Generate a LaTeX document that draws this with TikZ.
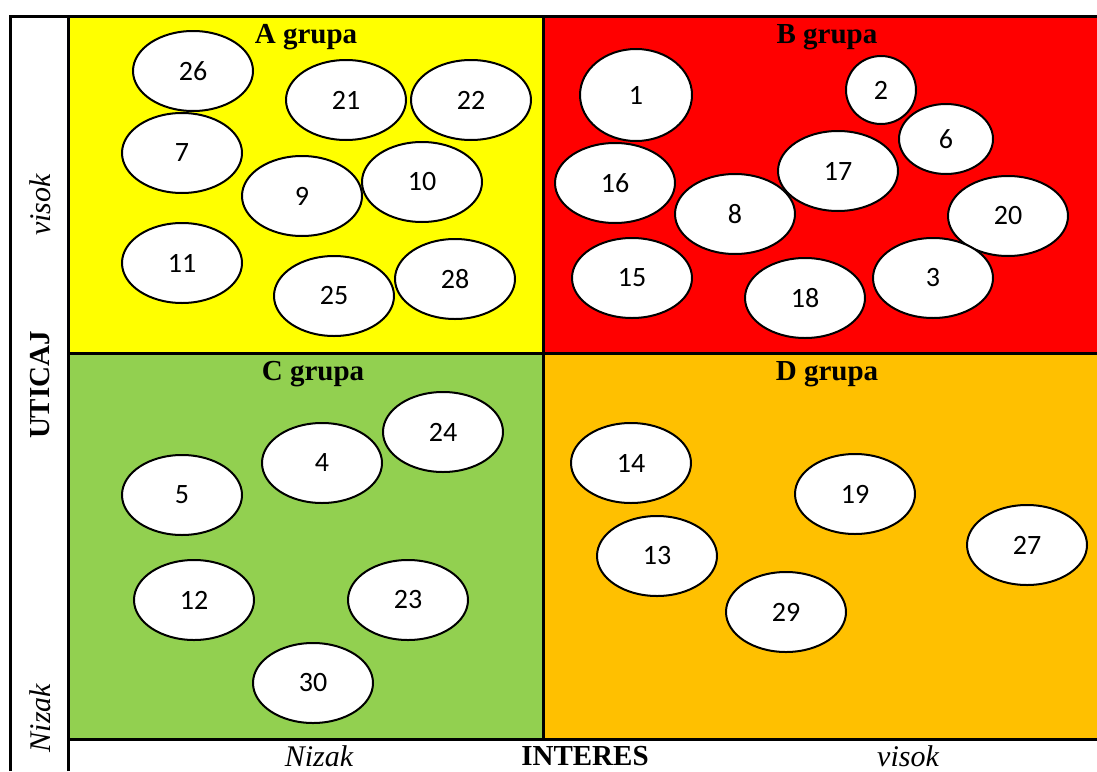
\documentclass[tikz,border=0pt]{standalone}
\usepackage{fontspec}
\setmainfont{Liberation Serif}
\newfontfamily\numfont{Carlito}
\usetikzlibrary{shapes, positioning}
\definecolor{grupayellow}{HTML}{FFFF00}
\definecolor{grupared}{HTML}{FF0000}
\definecolor{grupagreen}{HTML}{92D050}
\definecolor{grupaorange}{HTML}{FFC000}
\tikzset{
  stake/.style={ellipse, draw=black, fill=white, line width=1pt, inner sep=0pt, minimum width=60pt, minimum height=40pt, font=\fontsize{14}{16}\selectfont\numfont},
  grouptitle/.style={font=\fontsize{14.5}{17}\selectfont\bfseries},
  axislabel/.style={font=\fontsize{15}{17}\selectfont\itshape}
}

\begin{document}
\begin{tikzpicture}[x=0.5pt, y=-0.5pt]
          \useasboundingbox (0,0) rectangle (1097,771);
          % Kvadranti
          \fill[grupayellow] (68,16) rectangle (543,353);
          \fill[grupared] (543,16) rectangle (1097,353);
          \fill[grupagreen] (68,353) rectangle (543,739);
          \fill[grupaorange] (543,353) rectangle (1097,739);
          % Okvir
          \draw[line width=1.5pt] (10,771) -- (10,16) -- (1097,16);
          \draw[line width=1.5pt] (68,771) -- (68,16);
          \draw[line width=1.5pt] (68,739) -- (1097,739);
          \draw[line width=1.5pt] (543,16) -- (543,739);
          \draw[line width=1.5pt] (68,353) -- (1097,353);
          % Naslovi grupa
          \node[grouptitle] (ta) at (306,37) {A grupa};
          \node[grouptitle] (tb) at (827,37) {B grupa};
          \node[grouptitle] (tc) at (313,374) {C grupa};
          \node[grouptitle] (td) at (827,374) {D grupa};
          % A grupa
          \node[stake] (s26) at (193,71) {26};
          \node[stake] (s21) at (346,100) {21};
          \node[stake] (s22) at (471,100) {22};
          \node[stake] (s7) at (182,153) {7};
          \node[stake] (s9) at (302,196) {9};
          \node[stake] (s10) at (422,182) {10};
          \node[stake] (s11) at (182,263) {11};
          \node[stake] (s25) at (334,296) {25};
          \node[stake] (s28) at (455,279) {28};
          % B grupa
          \node[stake, minimum width=56pt, minimum height=46pt] (s1) at (636,95) {1};
          \node[stake, minimum width=35pt, minimum height=34pt] (s2) at (881,90) {2};
          \node[stake, minimum width=47pt, minimum height=35pt] (s6) at (946,139) {6};
          \node[stake] (s16) at (615,183) {16};
          \node[stake] (s17) at (838,171) {17};
          \node[stake] (s8) at (735,214) {8};
          \node[stake] (s20) at (1008,216) {20};
          \node[stake] (s15) at (632,278) {15};
          \node[stake] (s18) at (805,298) {18};
          \node[stake] (s3) at (933,278) {3};
          % C grupa
          \node[stake] (s4) at (322,463) {4};
          \node[stake] (s24) at (443,432) {24};
          \node[stake] (s5) at (182,495) {5};
          \node[stake] (s12) at (194,600) {12};
          \node[stake] (s23) at (408,600) {23};
          \node[stake] (s30) at (313,683) {30};
          % D grupa
          \node[stake] (s14) at (631,463) {14};
          \node[stake] (s19) at (855,494) {19};
          \node[stake] (s13) at (657,556) {13};
          \node[stake] (s27) at (1027,545) {27};
          \node[stake] (s29) at (786,612) {29};
          % Ose
          \node[axislabel, rotate=90] (yhigh) at (40,205) {visok};
          \node[grouptitle, rotate=90] (ytitle) at (40,385) {UTICAJ};
          \node[axislabel, rotate=90] (ylow) at (40,718) {Nizak};
          \node[axislabel] (xlow) at (319,756) {Nizak};
          \node[grouptitle] (xtitle) at (585,756) {INTERES};
          \node[axislabel] (xhigh) at (908,756) {visok};
        \end{tikzpicture}
\end{document}
